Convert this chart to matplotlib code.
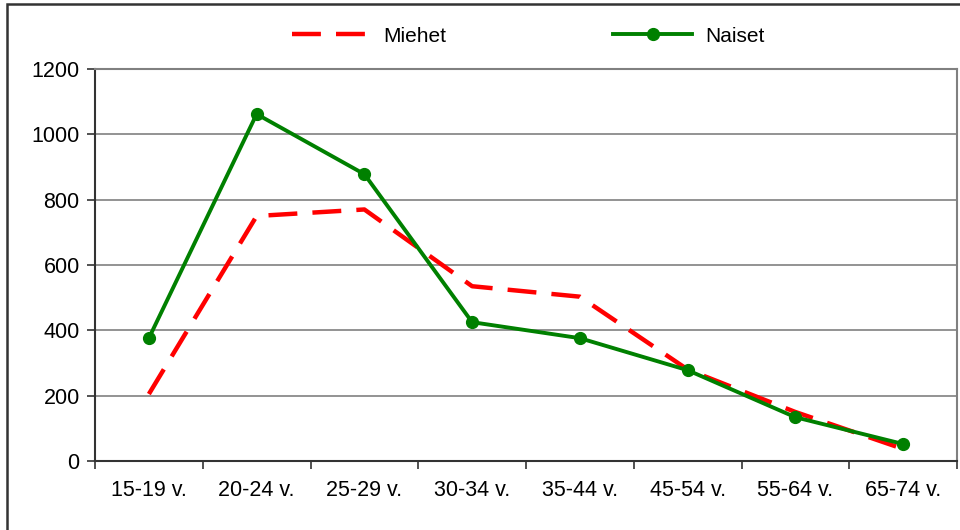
import matplotlib.pyplot as plt
from matplotlib.patches import Rectangle
import numpy as np

plt.rcParams['font.family'] = ['Liberation Sans', 'DejaVu Sans']

categories = ['15-19 v.', '20-24 v.', '25-29 v.', '30-34 v.',
              '35-44 v.', '45-54 v.', '55-64 v.', '65-74 v.']
miehet = [205, 750, 770, 535, 503, 280, 150, 37]
naiset = [376, 1062, 878, 425, 376, 278, 134, 52]
y_ticks = [0, 200, 400, 600, 800, 1000, 1200]

fig = plt.figure(figsize=(9.6, 5.3), dpi=100)
ax = fig.add_axes([95 / 960, 1 - 461 / 530, 862 / 960, 392 / 530])

x = np.arange(len(categories))
ax.plot(x, miehet, color='#FF0000', lw=3.2, linestyle=(0, (6.5, 3.4)),
        label='Miehet', zorder=3)
ax.plot(x, naiset, color='#008000', lw=2.8, marker='o', markersize=8.5,
        label='Naiset', zorder=4)

ax.set_xlim(-0.5, len(categories) - 0.5)
ax.set_ylim(0, 1200)
ax.set_yticks(y_ticks)
ax.set_yticklabels([str(v) for v in y_ticks])
ax.yaxis.grid(True, color='#808080', lw=1.2)
ax.set_axisbelow(True)

# category labels centred, tick marks between categories
ax.set_xticks(np.arange(-0.5, len(categories), 1.0))
ax.set_xticklabels([])
ax.set_xticks(x, minor=True)
ax.set_xticklabels(categories, minor=True)
ax.tick_params(axis='x', which='minor', length=0, pad=14, labelsize=15.5)
ax.tick_params(axis='x', which='major', length=6, width=1.2, color='#333333')
ax.tick_params(axis='y', length=6, width=1.2, color='#333333', labelsize=15.5, pad=5)

for s in ['left', 'bottom']:
    ax.spines[s].set_color('#333333')
    ax.spines[s].set_linewidth(1.5)
for s in ['top', 'right']:
    ax.spines[s].set_color('#808080')
    ax.spines[s].set_linewidth(1.5)

fig.legend(loc='center', bbox_to_anchor=(0.55, 1 - 36 / 530), ncol=2,
           frameon=False, fontsize=15, handlelength=3.8, columnspacing=8,
           handletextpad=0.6)

# chart area border
fig.patches.append(Rectangle((7 / 960, -0.05), 1.1, 1.05 - 4 / 530,
                             transform=fig.transFigure, fill=False,
                             edgecolor='#333333', lw=1.8))

fig.savefig('out.png', dpi=100)
